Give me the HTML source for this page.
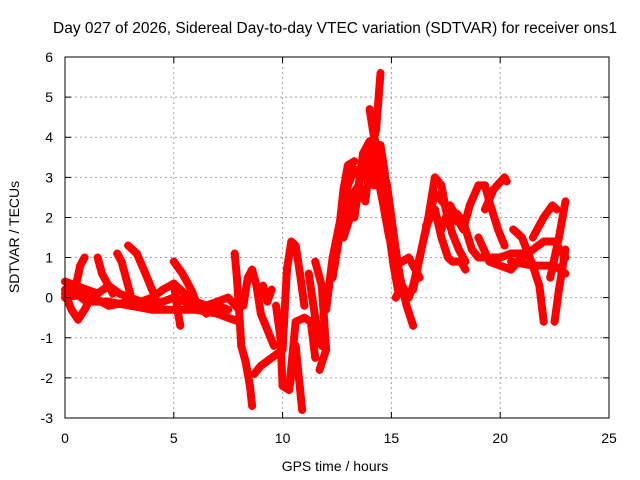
<!DOCTYPE html>
<html><head><meta charset="utf-8"><style>
body{margin:0;background:#fff}
svg{display:block;font-family:"Liberation Sans",sans-serif}
</style></head><body>
<svg id="chart" width="640" height="480">
<rect width="640" height="480" fill="#fff"/>
<text x="335" y="33" font-size="15.5" text-anchor="middle">Day 027 of 2026, Sidereal Day-to-day VTEC variation (SDTVAR) for receiver ons1</text>
<text x="335" y="471" font-size="14" text-anchor="middle">GPS time / hours</text>
<text transform="translate(19,237) rotate(-90)" font-size="14" text-anchor="middle">SDTVAR / TECUs</text>
<g id="grid"></g><g id="marks"></g><g id="axes"></g>
</svg>
<script>
const xTicks=[0,5,10,15,20,25];
const yTicks=[-3,-2,-1,0,1,2,3,4,5,6];
const track1=[[0,0.2],[0.5,0.1],[1,-0.1],[2,-0.1],[3,-0.2],[4,-0.3],[5,-0.3],[6,-0.3],[7,-0.4],[7.5,-0.5],[8,-0.6]];
const track2=[[0,0.4],[0.5,0.3],[1,0.2],[1.5,0.1],[2,0.3],[2.5,0.1],[3,0],[3.5,-0.1],[4,0],[4.5,0.2],[5,0.35],[5.5,0.1],[6,-0.1],[6.5,-0.2],[7,-0.1],[7.5,0],[8,-0.3]];
const track3=[[0,0.1],[0.3,-0.3],[0.6,-0.55],[0.9,-0.3],[1.1,-0.1]];
const track4=[[0.5,0.3],[0.7,0.8],[0.9,1.0]];
const track5=[[1.5,1.0],[1.7,0.6],[2,0.3],[2.2,0.1]];
const track6=[[2.9,1.3],[3.3,1.1],[3.7,0.6],[4,0.2],[4.3,-0.2]];
const track7=[[2.4,1.1],[2.6,0.9],[2.8,0.5],[3.0,0.1]];
const track8=[[5,0.9],[5.4,0.6],[5.8,0.2],[6.1,-0.2],[6.5,-0.4]];
const track9=[[5,0.35],[5.2,-0.4],[5.3,-0.7]];
const track10=[[7.8,1.1],[7.9,0.5],[8,-0.3],[8.1,-1.2],[8.3,-1.6],[8.5,-2.2],[8.6,-2.7]];
const track11=[[8.2,-0.2],[8.4,0.5],[8.6,0.7],[8.8,0.3],[9,-0.4],[9.3,-0.8],[9.6,-1.2]];
const track12=[[8.7,-1.9],[9,-1.7],[9.5,-1.5],[10,-1.3]];
const track13=[[9.1,0.3],[9.3,-0.1],[9.5,0.2]];
const track14=[[10,-1.3],[10.2,0.7],[10.4,1.4],[10.6,1.3],[10.8,0.6],[11,-0.2]];
const track15=[[9.7,-0.2],[9.9,-1],[10,-2.2],[10.3,-2.3],[10.6,-1.2],[10.9,-2.8]];
const track16=[[10.3,-2.3],[10.6,-0.6],[11,-0.5],[11.3,-0.6],[11.5,-1.5]];
const track17=[[11.5,0.9],[11.8,0.3],[12,-1.3],[11.7,-1.8]];
const track18=[[11.2,0.6],[11.5,-0.5],[11.8,-1.2]];
const track19=[[12,-0.3],[12.3,1],[12.6,1.8],[13,2.8],[13.3,3.2],[13.7,3],[14,3.5],[14.3,4.2],[14.5,5.6]];
const track20=[[12.3,0.5],[12.6,1.5],[13,2.4],[13.5,2.8],[13.8,2.4],[14,3.3],[14.4,3.5],[14.6,3]];
const track21=[[12.5,1.2],[12.8,2.7],[13,3.3],[13.3,3.4]];
const track22=[[14,4.7],[14.2,4],[14.5,3.5],[14.8,2.8],[15,2],[15.2,1.2],[15.4,0.5],[15.7,-0.2],[16,-0.7]];
const track23=[[14.6,3],[14.8,2],[15.1,0.8],[15.3,0.2]];
const track24=[[15.2,0],[15.5,0.3],[15.8,0],[16,0.3],[16.3,1]];
const track25=[[15.5,0.9],[15.8,1],[16,0.8],[16.3,0.5]];
const track26=[[16,0.2],[16.3,1],[16.7,2],[17,3],[17.3,2.8],[17.5,2.2],[17.8,1.6],[18.1,1.2],[18.4,0.9]];
const track27=[[16.6,1.8],[17,2.2],[17.3,1.5],[17.6,1],[17.8,0.9],[18.2,0.9],[18.4,0.7]];
const track28=[[17.3,1.7],[17.7,2.3],[18,2],[18.3,1.7],[18.6,2.3],[19,2.8],[19.3,2.8],[19.5,2.4],[19.9,1.7],[20.2,1.3]];
const track29=[[18,2.1],[18.3,1.9],[18.7,1.2],[19,1],[19.5,1.0],[20,1],[20.5,1.1],[21,1.1]];
const track30=[[19.3,2.2],[19.7,2.7],[20.2,3],[20.3,2.9]];
const track31=[[19,1.5],[19.5,0.9],[20,0.8],[20.5,0.7],[21,1],[21.5,1.2],[22,1.4],[22.5,1.4],[23,1.0]];
const track32=[[20.6,1.7],[21,1.5],[21.5,0.8],[21.8,0.3],[22,-0.6]];
const track33=[[21.5,1.5],[22,2],[22.4,2.3],[22.6,2.2]];
const track34=[[22.3,0.5],[22.7,1.5],[23,2.4]];
const track35=[[22.5,-0.6],[22.7,0.2],[23,1.2]];
const track36=[[20.5,0.9],[21.5,0.8],[22.5,0.8],[23,0.6]];
const track37=[[12.8,1.5],[13.1,2],[13.4,2.4],[13.7,3.6],[14,3.9],[14.3,3.2],[14.6,2.4],[14.9,1.5]];
const track38=[[13.3,2],[13.6,3.2],[13.9,3.1],[14.2,2.8],[14.5,3.8],[14.7,3.1]];
const track39=[[0,0],[1,0.1],[2,-0.2],[3,-0.1],[4,-0.2],[5,0],[6,-0.2],[7,-0.2],[7.5,-0.3]];
const track40=[[16.5,1.5],[17,2.6],[17.5,2.3],[18,1.9]];
const tracks=[track1,track2,track3,track4,track5,track6,track7,track8,track9,track10,track11,track12,track13,track14,track15,track16,track17,track18,track19,track20,track21,track22,track23,track24,track25,track26,track27,track28,track29,track30,track31,track32,track33,track34,track35,track36,track37,track38,track39,track40];

const L=65,R=609,T=57,B=418;
const xS=v=>L+(v-0)/25*(R-L);
const yS=v=>B-(v+3)/9*(B-T);
const NS='http://www.w3.org/2000/svg';
function mk(tag,attrs,parent){const e=document.createElementNS(NS,tag);for(const k in attrs)e.setAttribute(k,attrs[k]);parent.appendChild(e);return e;}
const grid=document.getElementById('grid'),marks=document.getElementById('marks'),axes=document.getElementById('axes');
xTicks.forEach(t=>{
  const x=xS(t);
  if(t>0&&t<25){const g=mk('line',{x1:x,x2:x,y1:T,y2:B,stroke:'#a0a0a0','stroke-dasharray':'2,3'},grid);
  
  }
  const tk=mk('path',{d:`M${x},${B}v-6M${x},${T}v6`,stroke:'#000'},axes);
  
  
  const lb=mk('text',{x:x,y:443,'font-size':14,'text-anchor':'middle'},axes);lb.textContent=t;
  
  
});
yTicks.forEach(t=>{
  const y=yS(t);
  if(t>-3&&t<6){const g=mk('line',{x1:L,x2:R,y1:y,y2:y,stroke:'#a0a0a0','stroke-dasharray':'2,3'},grid);
  
  }
  const tk=mk('path',{d:`M${L},${y}h6M${R},${y}h-6`,stroke:'#000'},axes);
  
  
  const lb=mk('text',{x:53,y:y+5,'font-size':14,'text-anchor':'end'},axes);lb.textContent=t;
  
  
});
const fr=mk('rect',{x:L,y:T,width:R-L,height:B-T,fill:'none',stroke:'#000'},axes);


tracks.forEach((tr,i)=>{
  const pl=mk('polyline',{points:tr.map(p=>xS(p[0])+','+yS(p[1])).join(' '),fill:'none',stroke:'#ff0000','stroke-width':8,'stroke-linejoin':'round','stroke-linecap':'round'},marks);
  
  
  tr.forEach(p=>{
    const x=xS(p[0]),y=yS(p[1]);
    const m=mk('path',{d:`M${x-4},${y}h8M${x},${y-4}v8`,stroke:'#ff0000','stroke-width':1.5},marks);
    
    
  });
});
</script>
</body></html>
